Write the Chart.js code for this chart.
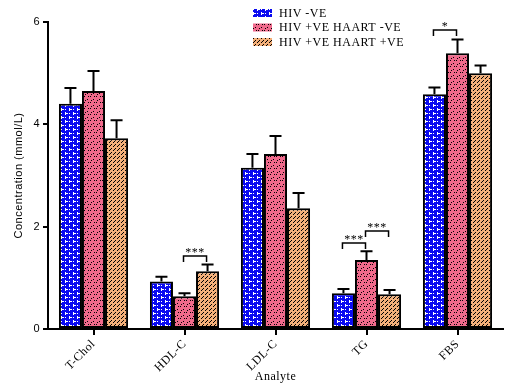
<!DOCTYPE html>
<html><head><meta charset="utf-8">
<script src="https://cdn.jsdelivr.net/npm/chart.js@4.4.0/dist/chart.umd.min.js"></script>
<style>html,body{margin:0;padding:0;background:#fff;}#wrap{width:507px;height:387px;}</style>
</head><body><div id="wrap"><canvas id="c" width="507" height="387"></canvas></div>
<script>
const categories = ['T-Chol','HDL-C','LDL-C','TG','FBS'];
const seriesNames = ['HIV -VE','HIV +VE HAART -VE','HIV +VE HAART +VE'];
const hivNeg      = [4.40, 0.93, 3.15, 0.70, 4.59];
const haartNeg    = [4.65, 0.64, 3.42, 1.35, 5.39];
const haartPos    = [3.73, 1.13, 2.36, 0.68, 5.00];
const hivNegErr   = [0.31, 0.09, 0.27, 0.08, 0.13];
const haartNegErr = [0.39, 0.06, 0.35, 0.17, 0.27];
const haartPosErr = [0.35, 0.13, 0.30, 0.08, 0.15];
const yTicks = [0, 2, 4, 6];
// significance brackets: category, from series, to series, height (data units), label
const sigCats   = ['HDL-C','TG','TG','FBS'];
const sigFrom   = [1, 0, 1, 0];
const sigTo     = [2, 1, 2, 1];
const sigY      = [1.43, 1.68, 1.91, 5.84];
const sigLabels = ['***','***','***','*'];

function makePattern(kind){
  const t = document.createElement('canvas');
  const g = t.getContext('2d');
  if(kind==='blue'){
    t.width=8; t.height=8;
    g.fillStyle='#0a0af0'; g.fillRect(0,0,8,8);
    g.fillStyle='#ffffff';
    g.fillRect(1,0,1,3); g.fillRect(2,1,2,1);
    g.fillRect(5,4,1,3); g.fillRect(6,5,2,1);
    g.fillRect(1,5,1,1); g.fillRect(5,1,1,1);
  } else if(kind==='pink'){
    t.width=6; t.height=6;
    g.fillStyle='#f06a8c'; g.fillRect(0,0,6,6);
    g.fillStyle='#000';
    g.fillRect(0,0,1,1); g.fillRect(3,3,1,1); g.fillRect(4,0,1,1);g.fillRect(1,4,1,1);
  } else {
    t.width=4; t.height=4;
    g.fillStyle='#f4b07a'; g.fillRect(0,0,4,4);
    g.fillStyle='#000';
    g.fillRect(3,0,1,1); g.fillRect(2,1,1,1); g.fillRect(1,2,1,1);
  }
  const ctx = document.getElementById('c').getContext('2d');
  return ctx.createPattern(t,'repeat');
}
const fills = [makePattern('blue'), makePattern('pink'), makePattern('orange')];
const errs = [hivNegErr, haartNegErr, haartPosErr];

const spacing = {
  id:'spacing',
  beforeDraw(chart){ try{ chart.ctx.letterSpacing='0.5px'; }catch(e){} },
  beforeLayout(chart){ try{ chart.ctx.letterSpacing='0.5px'; }catch(e){} }
};

const overlay = {
  id:'overlay',
  afterDatasetsDraw(chart){
    const ctx = chart.ctx, y = chart.scales.y;
    ctx.save();
    ctx.strokeStyle='#000'; ctx.lineWidth=2; ctx.lineCap='butt';
    chart.data.datasets.forEach((ds,i)=>{
      const meta = chart.getDatasetMeta(i);
      meta.data.forEach((bar,j)=>{
        const top = y.getPixelForValue(ds.data[j]);
        const et = y.getPixelForValue(ds.data[j]+errs[i][j]);
        ctx.beginPath();
        ctx.moveTo(bar.x, top); ctx.lineTo(bar.x, et);
        ctx.moveTo(bar.x-6, et); ctx.lineTo(bar.x+6, et);
        ctx.stroke();
      });
    });
    // significance brackets
    ctx.lineWidth=1.5;
    ctx.font='12px "Liberation Serif"';
    ctx.textAlign='center'; ctx.textBaseline='bottom'; ctx.fillStyle='#000';
    sigCats.forEach((c,k)=>{
      const j = categories.indexOf(c);
      const x1 = chart.getDatasetMeta(sigFrom[k]).data[j].x - 1;
      const x2 = chart.getDatasetMeta(sigTo[k]).data[j].x - 1;
      const yy = Math.round(y.getPixelForValue(sigY[k]));
      ctx.beginPath();
      ctx.moveTo(x1, yy+6); ctx.lineTo(x1, yy); ctx.lineTo(x2, yy); ctx.lineTo(x2, yy+6);
      ctx.stroke();
      ctx.fillText(sigLabels[k], (x1+x2)/2, yy+3);
    });
    // legend
    ctx.textAlign='left'; ctx.textBaseline='middle';
    ctx.font='12px "Liberation Serif"';
    try{ ctx.letterSpacing='0.5px'; }catch(e){}
    chart.data.datasets.forEach((ds,i)=>{
      const ly = 13 + i*14.5;
      ctx.fillStyle = fills[i];
      ctx.fillRect(253, ly-4, 19, 8);
      ctx.fillStyle='#000';
      ctx.fillText(ds.label, 279, ly+0.5);
    });
    ctx.restore();
  }
};

new Chart(document.getElementById('c'), {
  type:'bar',
  data:{
    labels: categories,
    datasets:[
      {label:seriesNames[0], data:hivNeg, backgroundColor:fills[0]},
      {label:seriesNames[1], data:haartNeg, backgroundColor:fills[1]},
      {label:seriesNames[2], data:haartPos, backgroundColor:fills[2]}
    ].map(d=>Object.assign(d,{borderColor:'#000', borderWidth:2, borderSkipped:false}))
  },
  plugins:[spacing, overlay],
  options:{
    responsive:false, animation:false, devicePixelRatio:1,
    layout:{padding:{top:22,right:4,left:0,bottom:0}},
    plugins:{legend:{display:false}, tooltip:{enabled:false}},
    datasets:{bar:{categoryPercentage:0.76, barPercentage:1.0}},
    scales:{
      x:{
        grid:{offset:false, drawOnChartArea:false, drawTicks:true, tickLength:6, color:'#000', lineWidth:2},
        border:{color:'#000', width:2},
        ticks:{minRotation:45, maxRotation:45, color:'#000', font:{family:'Liberation Serif', size:12}, padding:2},
        title:{display:true, text:'Analyte', color:'#000', font:{family:'Liberation Serif', size:12}, padding:{top:0,bottom:3}},
        afterFit(s){ s.height = 58; }
      },
      y:{
        min:0, max:6,
        afterBuildTicks(s){ s.ticks = yTicks.map(v=>({value:v})); },
        grid:{drawOnChartArea:false, drawTicks:true, tickLength:5, color:'#000', lineWidth:2},
        border:{color:'#000', width:2},
        ticks:{color:'#000', font:{family:'Liberation Sans', size:11}, padding:3},
        title:{display:true, text:'Concentration (mmol/L)', color:'#000', font:{family:'Liberation Sans', size:11}, padding:{top:12,bottom:0}},
        afterFit(s){ s.width = 48; }
      }
    }
  }
});
</script></body></html>
